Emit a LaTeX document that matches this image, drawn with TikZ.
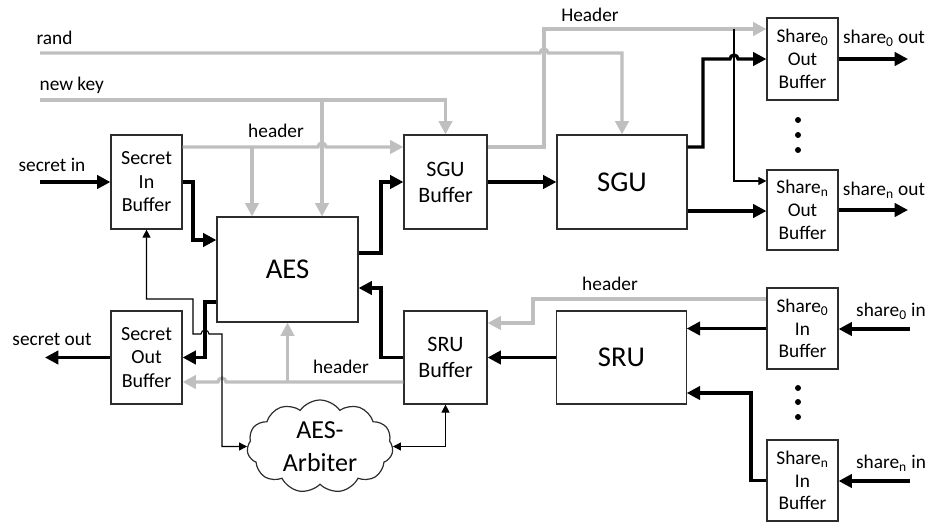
\documentclass[tikz,border=0pt]{standalone}
\usepackage{fontspec}
\setmainfont{Carlito}
\usepackage{tikz}
\usetikzlibrary{arrows.meta,shapes.symbols}

\definecolor{hdrgray}{RGB}{191,191,191}
\definecolor{boxline}{RGB}{45,45,45}

\begin{document}
\begin{tikzpicture}[x=0.75pt,y=-0.75pt,
  font=\fontsize{14.5}{17.6}\selectfont,
  buf/.style={draw=boxline,line width=0.9pt,inner sep=0pt,align=center,
    minimum width=53.25pt,font=\fontsize{14.5}{17}\selectfont},
  unit/.style={draw=boxline,line width=0.9pt,inner sep=0pt,
    font=\fontsize{21.5}{24}\selectfont},
  data/.style={line width=2.4pt,-{Triangle[length=10pt,width=10pt]}},
  hdr/.style={hdrgray,line width=2.4pt,-{Triangle[length=10pt,width=10pt]}},
  ctrl/.style={line width=0.8pt,-{Triangle[length=6pt,width=6pt]}},
  ctrltwo/.style={line width=0.8pt,{Triangle[length=6pt,width=6pt]}-{Triangle[length=6pt,width=6pt]}},
  lbl/.style={inner sep=1pt}]

\useasboundingbox (0,0) rectangle (931,521);

% ---------- blocks ----------
\node[buf,minimum height=70.5pt,font=\fontsize{15}{17.6}\selectfont] (sib) at (146.5,182) {Secret\\In\\Buffer};
\node[buf,minimum height=69.75pt,font=\fontsize{15}{17.6}\selectfont] (sob) at (146.5,357.5) {Secret\\Out\\Buffer};
\node[unit,minimum width=105.75pt,minimum height=78.75pt] (aes) at (287.5,269.5) {AES};
\node[buf,minimum width=62.25pt,minimum height=70.5pt,font=\fontsize{16.5}{19.5}\selectfont] (sgub) at (445.5,182) {SGU\\Buffer};
\node[buf,minimum width=62.25pt,minimum height=69.75pt,font=\fontsize{16.5}{19.5}\selectfont] (srub) at (445.5,357.5) {SRU\\Buffer};
\node[unit,minimum width=97.5pt,minimum height=70.5pt] (sgu) at (622,182) {SGU};
\node[unit,minimum width=97pt,minimum height=69.75pt] (sru) at (621.5,357.5) {SRU};

\node[buf,minimum height=61.5pt] (so0) at (802.5,59) {Share\textsubscript{0}\\Out\\Buffer};
\node[buf,minimum height=60pt] (son) at (802.5,210) {Share\textsubscript{n}\\Out\\Buffer};
\node[buf,minimum height=60.75pt] (si0) at (802.5,328.5) {Share\textsubscript{0}\\In\\Buffer};
\node[buf,minimum height=60.75pt] (sin) at (802.5,480.5) {Share\textsubscript{n}\\In\\Buffer};

\node[cloud,draw=boxline,line width=0.9pt,cloud puffs=11,cloud puff arc=110,aspect=1.6,
  inner sep=0pt,minimum width=109.5pt,minimum height=69.75pt,align=center,
  font=\fontsize{19.5}{24.5}\selectfont] (arb) at (320,446.5) {AES-\\Arbiter};

\foreach \y in {120,135,150,388,402,417}
  \fill (798,\y) circle[radius=3];

% ---------- free ends and taps ----------
\coordinate (randin) at (40,53);
\coordinate (keyin) at (40,100);
\coordinate (secin) at (40,182);
\coordinate (secout) at (45,357.5);
\coordinate (s0out) at (908,59);
\coordinate (snout) at (908,210);
\coordinate (s0in) at (910,329);
\coordinate (snin) at (910,481);
\coordinate (keytap) at (322,100);
\coordinate (hdrtap) at (252,147);
\coordinate (sharetap) at (734,29);

% ---------- header / control (gray) ----------
\draw[hdr] (randin) -- (540,53) arc[start angle=180,end angle=360,radius=4] -- (622,53) -- (sgu.north);
\draw[hdr] (keyin) -- (sgub.north |- keyin) -- (sgub.north);
\draw[hdr] (keytap) -- (aes.north -| keytap);
\draw[hdr] (sib.east |- 0,147) -- (318,147) arc[start angle=180,end angle=360,radius=4] -- (sgub.west |- 0,147);
\draw[hdr] (hdrtap) -- (aes.north -| hdrtap);
\draw[hdr] (sgub.east |- 0,147) -- (544,147) -- (544,29) -- (so0.west |- sharetap);

\draw[hdr] (si0.west |- 0,299) -- (533,299) -- (533,323) -- (srub.east |- 0,323);
\draw[hdr] (srub.west |- 0,382) -- (226,382) arc[start angle=0,end angle=-180,radius=4] -- (sob.east |- 0,382);
\draw[hdr] (aes.south |- 0,382) -- (aes.south);

% ---------- data paths ----------
\draw[data] (secin) -- (sib.west);
\draw[data] (sib.east) -- (193,182) -- (193,240) -- (aes.west |- 0,240);
\draw[data] (aes.east |- 0,253) -- (381,253) -- (381,182) -- (sgub.west);
\draw[data] (sgub.east) -- (sgu.west);
\draw[data] (sgu.east |- 0,147) -- (703,147) -- (703,59) -- (730,59) arc[start angle=180,end angle=360,radius=4] -- (so0.west);
\draw[data] (sgu.east |- 0,211) -- (son.west |- 0,211);
\draw[data] (so0.east) -- (s0out);
\draw[data] (son.east) -- (snout);

\draw[data] (aes.west |- 0,302) -- (205,302) -- (205,357.5) -- (sob.east);
\draw[data] (sob.west) -- (secout);
\draw[data] (srub.west) -- (381,357.5) -- (381,288) -- (aes.east |- 0,288);
\draw[data] (sru.west) -- (srub.east);
\draw[data] (s0in) -- (si0.east |- s0in);
\draw[data] (si0.west) -- (sru.east |- si0.west);
\draw[data] (snin) -- (sin.east |- snin);
\draw[data] (sin.west) -- (751,480.5) -- (751,393) -- (sru.east |- 0,393);

% ---------- thin control ----------
\draw[ctrl] (sharetap) |- (son.west |- 0,181);
\draw[ctrltwo] (sib.south) -- (146.5,299) -- (193,299) -- (193,334) -- (201,334)
  arc[start angle=180,end angle=360,radius=4] -- (222,334) |- (arb.west);
\draw[ctrltwo] (arb.east) -| (srub.south);

% ---------- labels ----------
\node[lbl,anchor=west] (randlbl) at (35,38) {rand};
\node[lbl,anchor=west] (keylbl) at (38,85) {new key};
\node[lbl] (hdrlbl) at (276,131) {header};
\node[lbl] (secinlbl) at (52,165) {secret in};
\node[lbl] (Hdrlbl) at (590,15) {Header};
\node[lbl] (s0outlbl) at (884,38) {share\textsubscript{0} out};
\node[lbl] (snoutlbl) at (884,190) {share\textsubscript{n} out};
\node[lbl] (secoutlbl) at (52,339) {secret out};
\node[lbl] (hdrlowlbl) at (341,367) {header};
\node[lbl] (hdrsrulbl) at (610,284) {header};
\node[lbl] (s0inlbl) at (891,311) {share\textsubscript{0} in};
\node[lbl] (sninlbl) at (891,463) {share\textsubscript{n} in};

\end{tikzpicture}
\end{document}
